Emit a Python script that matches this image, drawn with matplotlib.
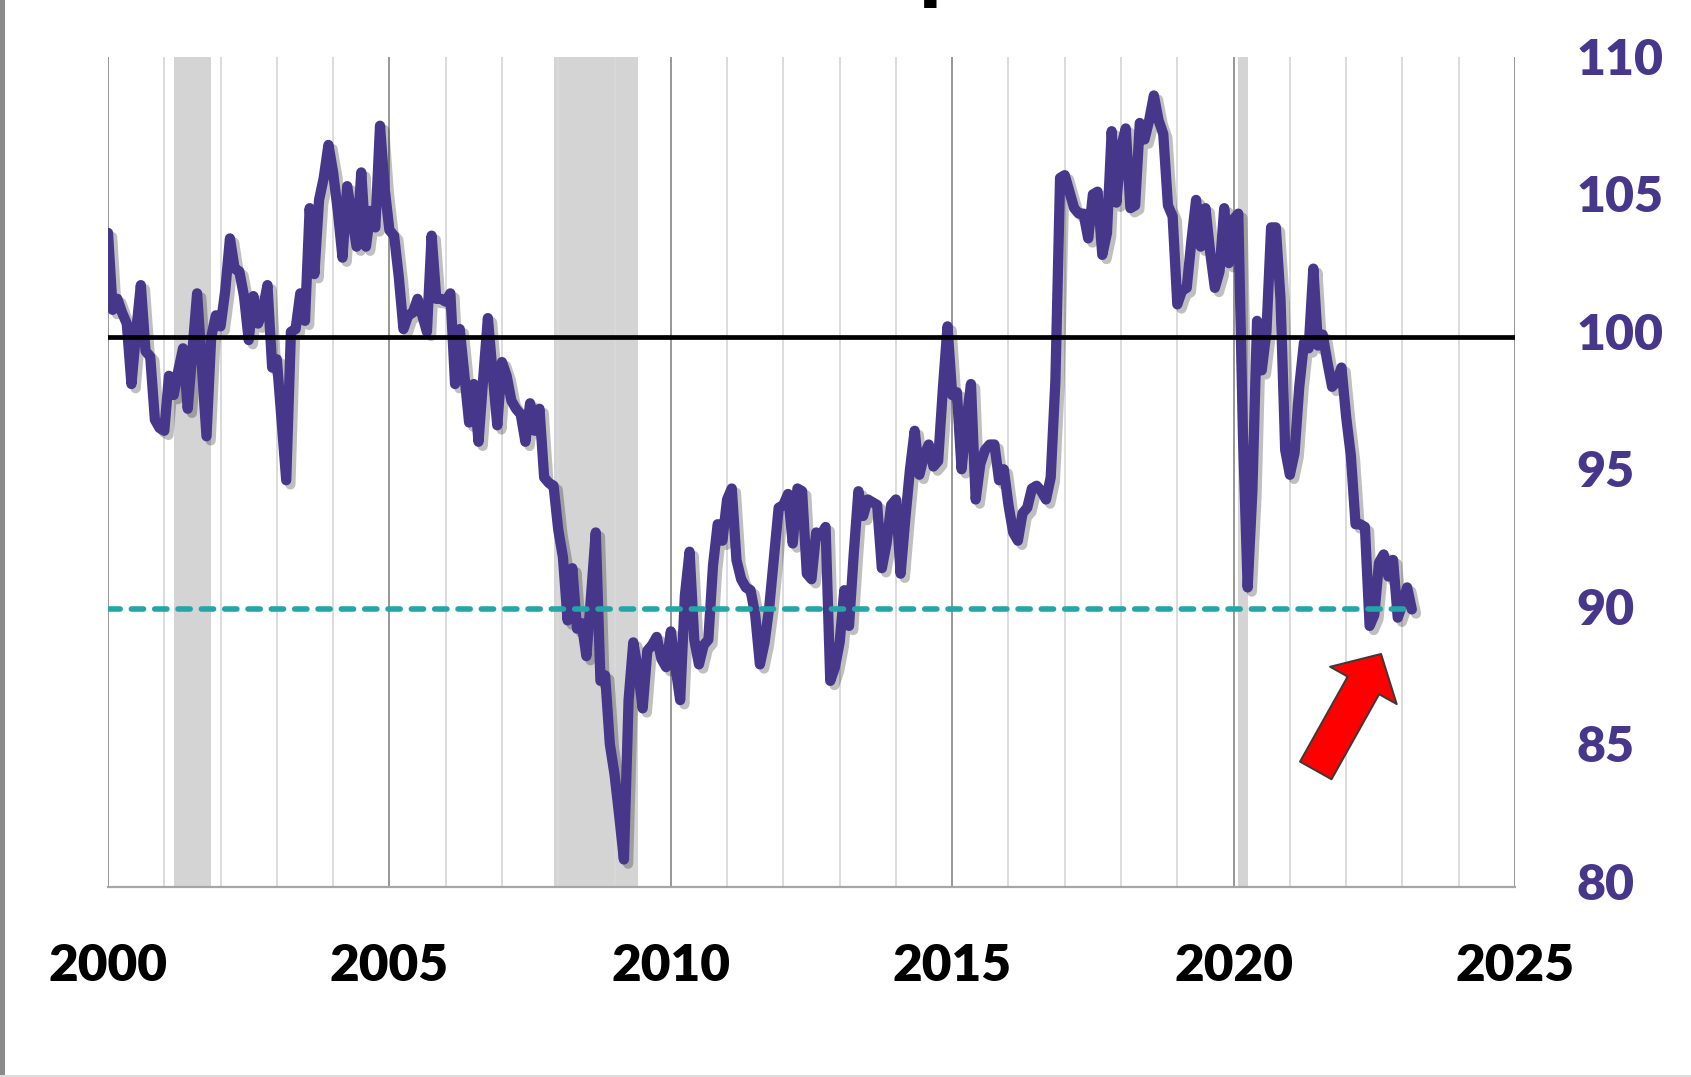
"""
Small business optimism index, monthly, with recession shading
"""
import numpy as np
import matplotlib.pyplot as plt
import matplotlib.transforms as mtransforms
from matplotlib import patheffects as pe
from matplotlib.patches import FancyArrowPatch, Rectangle

plt.rcParams['font.family'] = ['Lato', 'DejaVu Sans']
plt.rcParams['font.weight'] = 'heavy'

# monthly index values, Jan 2000 .. Mar 2023
y2000 = [103.8, 101.0, 101.4, 100.9, 100.5, 98.3, 100.2, 101.9, 99.5, 99.3, 97.0, 96.7]
y2001 = [96.6, 98.6, 97.9, 98.8, 99.6, 97.4, 99.5, 101.6, 99.0, 96.4, 100.0, 100.8]
y2002 = [100.4, 101.7, 103.6, 102.5, 102.4, 101.5, 99.9, 101.5, 100.5, 101.0, 101.9, 98.9]
y2003 = [99.2, 97.0, 94.8, 100.2, 100.3, 101.6, 100.6, 104.7, 102.3, 105.0, 105.8, 107.0]
y2004 = [106.0, 104.6, 102.9, 105.5, 104.4, 103.3, 106.0, 103.3, 104.6, 104.0, 107.7, 105.4]
y2005 = [103.9, 103.7, 102.2, 100.3, 100.8, 100.9, 101.4, 100.8, 100.2, 103.7, 101.4, 101.4]
y2006 = [101.3, 101.6, 98.3, 100.3, 98.6, 96.9, 98.3, 96.2, 98.5, 100.7, 98.7, 96.8]
y2007 = [99.1, 98.6, 97.7, 97.4, 97.2, 96.2, 97.6, 96.6, 97.4, 94.9, 94.7, 94.6]
y2008 = [93.0, 92.0, 89.7, 91.6, 89.4, 89.6, 88.4, 90.6, 92.9, 87.5, 87.7, 85.2]
y2009 = [84.1, 82.6, 81.0, 86.8, 88.9, 87.9, 86.5, 88.6, 88.8, 89.1, 88.3, 88.0]
y2010 = [89.3, 88.0, 86.8, 90.6, 92.2, 89.0, 88.1, 88.8, 89.0, 91.7, 93.2, 92.6]
y2011 = [94.1, 94.5, 91.9, 91.2, 90.9, 90.8, 89.9, 88.1, 88.9, 90.2, 92.0, 93.8]
y2012 = [93.9, 94.3, 92.5, 94.5, 94.4, 91.4, 91.2, 92.9, 92.8, 93.1, 87.5, 88.0]
y2013 = [88.9, 90.8, 89.5, 92.1, 94.4, 93.5, 94.1, 94.0, 93.9, 91.6, 92.5, 93.9]
y2014 = [94.1, 91.4, 93.4, 95.2, 96.6, 95.0, 95.7, 96.1, 95.3, 95.5, 98.1, 100.4]
y2015 = [97.9, 98.0, 95.2, 96.9, 98.3, 94.1, 95.4, 95.9, 96.1, 96.1, 94.8, 95.2]
y2016 = [93.9, 92.9, 92.6, 93.6, 93.8, 94.5, 94.6, 94.4, 94.1, 94.9, 98.4, 105.8]
y2017 = [105.9, 105.3, 104.7, 104.5, 104.5, 103.6, 105.2, 105.3, 103.0, 103.8, 107.5, 104.9]
y2018 = [106.9, 107.6, 104.7, 104.8, 107.8, 107.2, 107.9, 108.8, 107.9, 107.4, 104.8, 104.4]
y2019 = [101.2, 101.7, 101.8, 103.5, 105.0, 103.3, 104.7, 103.1, 101.8, 102.4, 104.7, 102.7]
y2020 = [104.3, 104.5, 96.4, 90.9, 94.4, 100.6, 98.8, 100.2, 104.0, 104.0, 101.4, 95.9]
y2021 = [95.0, 95.8, 98.2, 99.8, 99.6, 102.5, 99.7, 100.1, 99.1, 98.2, 98.4, 98.9]
y2022 = [97.1, 95.7, 93.2, 93.2, 93.1, 89.5, 89.9, 91.8, 92.1, 91.3, 91.9, 89.8]
y2023 = [90.3, 90.9, 90.1]

index = (y2000 + y2001 + y2002 + y2003 + y2004 + y2005 + y2006 + y2007 + y2008
         + y2009 + y2010 + y2011 + y2012 + y2013 + y2014 + y2015 + y2016 + y2017
         + y2018 + y2019 + y2020 + y2021 + y2022 + y2023)
dates = 2000 + np.arange(len(index)) / 12

# recessions (start, end) as decimal years
rec_start = [2001 + 2/12, 2007 + 11/12, 2020 + 1/12]
rec_end = [2001 + 10/12, 2009 + 5/12, 2020 + 3/12]

avg_level = 100
latest = index[-1]

xticks = [2000, 2005, 2010, 2015, 2020, 2025]
yticks = [80, 85, 90, 95, 100, 105, 110]

purple = '#46378b'

fig = plt.figure(figsize=(16.91, 10.77), dpi=100)
ax = fig.add_axes([108/1691, 1 - 887/1077, (1515 - 108)/1691, (887 - 57)/1077])

for s, e in zip(rec_start, rec_end):
    ax.axvspan(s, e, color='#d4d4d4', lw=0, zorder=0.2)

ax.plot(dates, index, color=purple, lw=7.4, solid_joinstyle='round',
        solid_capstyle='round', zorder=3,
        path_effects=[pe.SimpleLineShadow(offset=(3, -3), shadow_color='k', alpha=0.25),
                      pe.Normal()])
ax.axhline(avg_level, color='black', lw=3.4, zorder=4)
ax.hlines(latest, dates[0], dates[-1], color='#22a6a8', lw=4.0,
          linestyles=(0, (2.2, 2.0)), capstyle='round', zorder=5)

# red arrow pointing at the latest readings
arrow = FancyArrowPatch((2021.46, 84.24), (2022.62, 88.48),
                        arrowstyle='simple,head_length=26,head_width=55,tail_width=26',
                        mutation_scale=1, shrinkA=0, shrinkB=0,
                        fc='#ff0000', ec='#3a3a3a', lw=1.4, zorder=6)
ax.add_patch(arrow)

ax.set_xlim(2000, 2025)
ax.set_ylim(80, 110.2)
ax.set_xticks(xticks)
ax.set_xticks(range(2000, 2026), minor=True)
ax.set_yticks(yticks)
ax.set_axisbelow(True)
ax.grid(which='minor', axis='x', color='#d9d9d9', lw=1.3)
ax.grid(which='major', axis='x', color='#8f8f8f', lw=1.3)

ax.yaxis.tick_right()
ax.tick_params(axis='y', which='both', length=0, pad=44, labelsize=36, labelcolor=purple)
ax.tick_params(axis='x', which='both', length=0, pad=40, labelsize=37, labelcolor='black')

# nudge the right-hand labels up a little, as in the original
shift = mtransforms.ScaledTranslation(0, 6/100, fig.dpi_scale_trans)
for lbl in ax.get_yticklabels():
    lbl.set_transform(lbl.get_transform() + shift)

for side in ['top', 'left', 'right']:
    ax.spines[side].set_visible(False)
ax.spines['bottom'].set_color('#a6a6a6')
ax.spines['bottom'].set_linewidth(1.6)

# cropped title: only the descender survives at the top edge
fig.text(918/1691, 1.0084, 'p', fontsize=72, fontweight='bold', ha='left', va='baseline')

# frame remnants along the left and bottom edges
fig.patches.append(Rectangle((0, 0), 5/1691, 1, transform=fig.transFigure,
                             color='#8a8a8a', lw=0))
fig.patches.append(Rectangle((0, 0), 1, 2/1077, transform=fig.transFigure,
                             color='#dcdcdc', lw=0))

plt.savefig('out.png', dpi=100)
